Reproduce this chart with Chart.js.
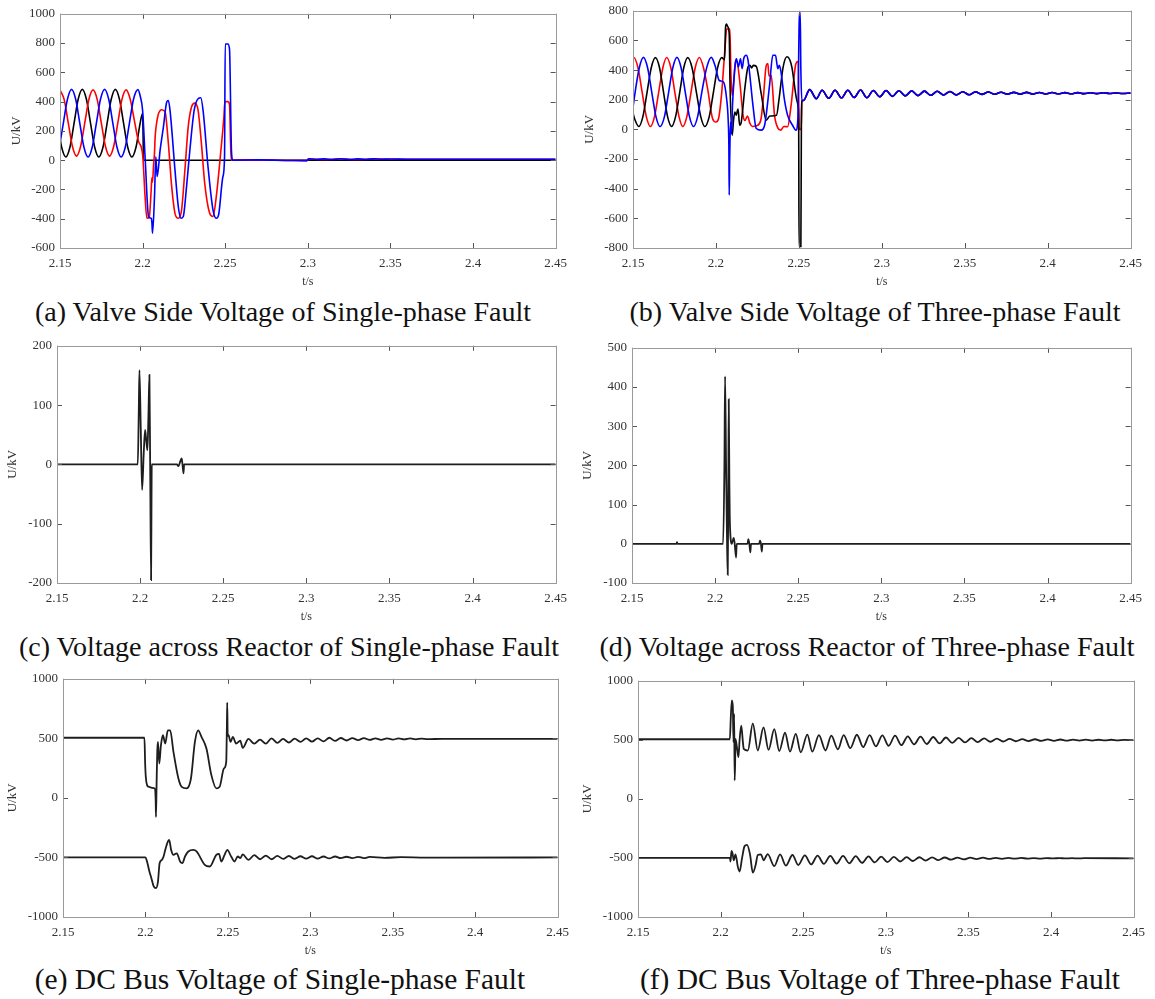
<!DOCTYPE html>
<html>
<head>
<meta charset="utf-8">
<script src="https://cdn.jsdelivr.net/npm/chart.js@4.4.1/dist/chart.umd.min.js"></script>
<style>
  body { margin: 0; background: #fff; width: 1155px; height: 999px; position: relative; overflow: hidden; font-family: 'Liberation Serif', 'Times New Roman', serif; }
  canvas.panel { position: absolute; }
  .cap { position: absolute; font-size: 28px; color: #111; white-space: nowrap; transform: translate(-50%, -50%); line-height: 1; }
  .cap.big { font-size: 29.5px; }
</style>
</head>
<body>
<div class="cap" style="left:283px;top:312px">(a) Valve Side Voltage of Single-phase Fault</div>
<div class="cap" style="left:875px;top:312px">(b) Valve Side Voltage of Three-phase Fault</div>
<div class="cap" style="left:289px;top:647px">(c) Voltage across Reactor of Single-phase Fault</div>
<div class="cap" style="left:867px;top:647px">(d) Voltage across Reactor of Three-phase Fault</div>
<div class="cap big" style="left:280px;top:980px">(e) DC Bus Voltage of Single-phase Fault</div>
<div class="cap big" style="left:880px;top:980px">(f) DC Bus Voltage of Three-phase Fault</div>
<script>
// tick labels
const xTicks = [2.15, 2.2, 2.25, 2.3, 2.35, 2.4, 2.45];
const aTicksY = [-600, -400, -200, 0, 200, 400, 600, 800, 1000];
const bTicksY = [-800, -600, -400, -200, 0, 200, 400, 600, 800];
const cTicksY = [-200, -100, 0, 100, 200];
const dTicksY = [-100, 0, 100, 200, 300, 400, 500];
const efTicksY = [-1000, -500, 0, 500, 1000];

// (a) valve side voltage, single-phase fault  [t (s), U (kV)]
const aRed = [[2.150,480],[2.1525,415],[2.155,255],[2.1575,95],[2.160,28],[2.1625,95],[2.165,255],[2.1675,415],[2.170,480],[2.1725,415],
  [2.175,255],[2.1775,95],[2.180,28],[2.1825,95],[2.185,255],[2.1875,415],[2.190,480],[2.1925,416],[2.195,272],[2.1975,130],
  [2.200,40],[2.2015,-250],[2.2026,-397],[2.204,-390],[2.2052,-204],[2.2056,-120],[2.206,-150],[2.2066,-40],[2.2072,50],[2.2076,160],
  [2.2082,230],[2.2096,317],[2.2116,345],[2.2136,330],[2.2156,113],[2.2176,-181],[2.2196,-363],[2.2216,-397],[2.2236,-340],[2.2256,-68],
  [2.2276,227],[2.2296,363],[2.2316,390],[2.2336,340],[2.2356,113],[2.2376,-159],[2.2406,-363],[2.2426,-385],[2.2446,-249],[2.2472,45],
  [2.2492,295],[2.2498,400],[2.2516,400],[2.2526,380],[2.2536,0],[2.26,2],[2.29,-2],[2.2995,-3],[2.3005,8],[2.31,5],
  [2.32,8],[2.33,5],[2.34,8],[2.35,6],[2.40,6],[2.45,6]];
const aBlue = [[2.150,116],[2.152,252],[2.1545,416],[2.157,484],[2.1595,416],[2.162,252],[2.1645,88],[2.167,22],[2.1695,88],[2.172,252],
  [2.1745,416],[2.177,484],[2.1795,416],[2.182,252],[2.1845,88],[2.187,22],[2.1895,88],[2.192,252],[2.1945,416],[2.1972,482],
  [2.1985,440],[2.200,340],[2.2016,0],[2.2036,-385],[2.2052,-397],[2.2056,-420],[2.206,-499],[2.2072,-249],[2.208,23],[2.2088,-113],
  [2.2106,68],[2.2126,227],[2.2146,397],[2.2156,408],[2.2166,340],[2.2196,-68],[2.2216,-317],[2.2232,-397],[2.2246,-385],[2.2266,-181],
  [2.2286,68],[2.2312,340],[2.2336,420],[2.2352,426],[2.2366,340],[2.2396,-45],[2.2426,-340],[2.2446,-397],[2.246,-374],[2.2486,-113],
  [2.2496,23],[2.2500,794],[2.2516,794],[2.2526,760],[2.2538,60],[2.2546,0],[2.27,2],[2.29,-2],[2.2995,-3],[2.3005,10],
  [2.305,5],[2.31,9],[2.315,4],[2.32,10],[2.325,4],[2.33,9],[2.335,5],[2.34,9],[2.345,6],[2.35,8],[2.36,6],[2.40,6],[2.45,6]];
const aBlack = [[2.150,150],[2.151,88],[2.1535,22],[2.156,88],[2.1585,252],[2.161,416],[2.1635,484],[2.166,416],[2.1685,252],[2.171,88],
  [2.1735,22],[2.176,88],[2.1785,252],[2.181,416],[2.1835,484],[2.186,416],[2.1885,252],[2.191,88],[2.1935,22],[2.196,88],
  [2.1985,252],[2.2,320],[2.2006,0],[2.45,0]];

// (b) valve side voltage, three-phase fault
const bRed = [[2.150,483],[2.1505,485],[2.153,416],[2.1555,252],[2.158,88],[2.1605,20],[2.163,88],[2.1655,252],[2.168,416],[2.1703,485],
  [2.1728,416],[2.1752,252],[2.1777,88],[2.180,20],[2.1825,88],[2.185,252],[2.1875,416],[2.190,485],[2.1925,416],[2.195,273],
  [2.198,72],[2.200,50],[2.2015,70],[2.2035,250],[2.2044,386],[2.2058,600],[2.2064,677],[2.2084,677],[2.209,386],[2.2098,230],
  [2.2118,455],[2.2126,460],[2.2143,330],[2.2163,100],[2.2175,60],[2.219,90],[2.2205,40],[2.222,20],[2.2245,25],[2.227,60],
  [2.2285,200],[2.2303,430],[2.2313,445],[2.232,360],[2.2333,365],[2.2353,96],[2.2373,10],[2.239,-5],[2.241,20],[2.2432,18],
  [2.2452,152],[2.2482,443],[2.2496,460],[2.2502,0],[2.2514,0],[2.2518,195]];
const bBlue = [[2.150,150],[2.1513,252],[2.1538,416],[2.1563,486],[2.1588,416],[2.1613,252],[2.1638,88],[2.1663,20],[2.169,88],[2.1715,252],
  [2.174,416],[2.1765,486],[2.179,416],[2.1815,252],[2.184,88],[2.1865,20],[2.189,88],[2.1915,252],[2.1945,420],[2.1972,486],
  [2.1995,430],[2.202,330],[2.2045,320],[2.2065,200],[2.2074,60],[2.2078,-120],[2.208,-443],[2.2083,-200],[2.2088,49],[2.2094,-28],
  [2.21,164],[2.2118,455],[2.2124,477],[2.2135,421],[2.2148,477],[2.2158,410],[2.2168,480],[2.2183,500],[2.2193,470],[2.2223,164],
  [2.2243,6],[2.2273,-5],[2.2293,26],[2.2323,295],[2.2343,500],[2.2359,500],[2.2373,410],[2.2382,433],[2.2392,390],[2.2412,208],
  [2.2432,96],[2.2462,28],[2.2482,-5],[2.2494,72],[2.2500,600],[2.2503,790],[2.2508,790],[2.2512,400],[2.2518,195]];
const bBlack = [[2.150,110],[2.151,70],[2.1535,20],[2.156,88],[2.1585,252],[2.161,416],[2.1635,484],[2.166,416],[2.1684,252],[2.1708,88],
  [2.1733,20],[2.1757,88],[2.1782,252],[2.1806,416],[2.183,484],[2.1856,416],[2.1882,252],[2.1908,88],[2.1933,20],[2.196,88],
  [2.1985,252],[2.201,416],[2.2035,484],[2.2052,470],[2.2058,690],[2.2064,710],[2.207,695],[2.208,645],[2.2085,300],[2.2098,-40],
  [2.2106,60],[2.2114,117],[2.2122,96],[2.2133,137],[2.2143,29],[2.2153,51],[2.2163,152],[2.2173,264],[2.2193,420],[2.2205,432],
  [2.2215,415],[2.2225,432],[2.2243,425],[2.2273,241],[2.2303,62],[2.2325,90],[2.2365,95],[2.238,200],[2.2405,420],[2.2428,490],
  [2.2445,470],[2.2458,419],[2.2488,195],[2.2496,150],[2.2499,0],[2.2501,-790],[2.2512,-790],[2.2515,0],[2.2518,195]];
// after 2.25 the three phases lie on top of each other
const bTail = [[2.2528,195],[2.2565,268],[2.2605,207],[2.2640,264],[2.2680,210],[2.2718,264],[2.2757,213],[2.2795,264],[2.2833,215],[2.2872,266],
  [2.2910,213],[2.2949,262],[2.2987,220],[2.3026,262],[2.3064,223],[2.3103,261],[2.3141,226],[2.3180,260],[2.3218,228],[2.3257,258],
  [2.3295,230],[2.3334,257],[2.3372,232],[2.3411,256],[2.3449,233],[2.3488,254],[2.3526,234],[2.3565,253],[2.3603,236],[2.3642,252],
  [2.3680,237],[2.3719,251],[2.3757,238],[2.3796,250],[2.3834,238],[2.3873,250],[2.3911,239],[2.3950,249],[2.3988,239],[2.4027,249],
  [2.4065,240],[2.4104,248],[2.4142,240],[2.4181,248],[2.4219,241],[2.4258,247],[2.4296,241],[2.4335,247],[2.4373,242],[2.4412,246],
  [2.4450,242],[2.45,245]];

// (c) reactor voltage, single-phase fault
const cLine = [[2.15,0],[2.1986,0],[2.1992,90],[2.1996,159],[2.2004,60],[2.2012,-43],[2.2022,20],[2.203,58],[2.2037,40],[2.2044,24],
  [2.2050,80],[2.2056,151],[2.2061,-20],[2.2066,-195],[2.2069,-40],[2.207,0],[2.2222,0],[2.223,-3],[2.225,10],[2.2255,0],
  [2.2261,-15],[2.2265,0],[2.45,0]];

// (d) reactor voltage, three-phase fault
const dLine = [[2.15,0],[2.1768,0],[2.177,4],[2.1775,0],[2.2048,0],[2.2056,200],[2.206,427],[2.2066,200],[2.2072,0],[2.2076,-79],
  [2.2079,100],[2.2082,369],[2.2086,150],[2.2088,75],[2.209,40],[2.2094,10],[2.21,0],[2.2112,15],[2.2118,0],[2.2126,-35],
  [2.213,0],[2.2195,0],[2.22,12],[2.2206,0],[2.2212,-22],[2.2216,0],[2.2265,0],[2.227,8],[2.2276,0],[2.2281,-20],[2.2285,0],[2.45,0]];

// (e) DC bus voltage, single-phase fault
const eUpper = [[2.15,505],[2.1994,505],[2.1998,300],[2.2002,180],[2.201,107],[2.202,93],[2.204,85],[2.2056,80],[2.2062,-20],[2.2064,-160],
  [2.2068,150],[2.2072,400],[2.2076,470],[2.2084,289],[2.2094,442],[2.2106,526],[2.212,456],[2.2136,567],[2.215,567],[2.217,386],
  [2.22,163],[2.222,93],[2.225,80],[2.2276,163],[2.23,470],[2.232,567],[2.234,512],[2.237,414],[2.24,191],[2.243,80],
  [2.245,93],[2.2476,247],[2.249,303],[2.2494,600],[2.2496,800],[2.2499,520],[2.2504,526],[2.2516,470],[2.253,512],[2.255,456],
  [2.2575,480],[2.259,420],[2.2625,495],[2.266,455],[2.2695,490],[2.273,455],[2.2765,500],[2.28,462],[2.2835,495],[2.287,465],
  [2.2905,497],[2.294,470],[2.2975,500],[2.301,472],[2.3045,500],[2.308,475],[2.3115,505],[2.315,478],[2.3185,503],[2.322,482],
  [2.3255,502],[2.329,485],[2.3325,502],[2.336,487],[2.3395,500],[2.343,488],[2.3465,500],[2.35,490],[2.3535,499],[2.357,491],
  [2.3605,499],[2.364,492],[2.3675,498],[2.371,493],[2.38,496],[2.45,495]];
const eLower = [[2.15,-500],[2.2,-500],[2.201,-536],[2.2024,-618],[2.2036,-674],[2.205,-743],[2.2064,-757],[2.2076,-702],[2.2086,-548],[2.21,-520],
  [2.211,-492],[2.212,-437],[2.2136,-367],[2.2144,-353],[2.2156,-437],[2.217,-478],[2.219,-465],[2.221,-534],[2.2224,-548],[2.224,-492],
  [2.226,-450],[2.229,-437],[2.231,-450],[2.236,-562],[2.239,-576],[2.243,-478],[2.2446,-470],[2.246,-534],[2.248,-478],[2.2496,-437],
  [2.252,-492],[2.254,-534],[2.256,-492],[2.2575,-505],[2.259,-475],[2.2625,-520],[2.266,-480],[2.2695,-515],[2.273,-485],[2.2765,-515],
  [2.28,-487],[2.2835,-512],[2.287,-488],[2.2905,-512],[2.294,-490],[2.2975,-510],[2.301,-490],[2.3045,-510],[2.308,-492],[2.3115,-508],
  [2.315,-492],[2.3185,-506],[2.322,-494],[2.3255,-506],[2.329,-495],[2.3325,-505],[2.336,-496],[2.345,-503],[2.355,-498],[2.37,-501],[2.45,-500]];

// (f) DC bus voltage, three-phase fault
const fUpper = [[2.15,505],[2.2056,505],[2.2062,700],[2.2068,835],[2.2074,780],[2.2078,480],[2.2082,719],[2.2085,157],[2.2088,300],[2.209,508],
  [2.21,424],[2.2108,354],[2.2115,500],[2.2125,621],[2.2135,480],[2.214,424],[2.2165,410],[2.2195,640],[2.2225,410],[2.226,605],
  [2.229,415],[2.2325,590],[2.2355,405],[2.239,560],[2.242,400],[2.2455,550],[2.2485,395],[2.2525,545],[2.2555,400],[2.2595,540],
  [2.2635,410],[2.267,535],[2.271,420],[2.2745,540],[2.2785,430],[2.2825,543],[2.2863,439],[2.2902,540],[2.294,445],[2.2979,538],
  [2.3017,450],[2.3056,535],[2.3094,455],[2.3133,530],[2.3171,462],[2.321,527],[2.3248,465],[2.3287,524],[2.3325,470],[2.3364,520],
  [2.3402,474],[2.3441,517],[2.3479,478],[2.3518,514],[2.3556,481],[2.3595,512],[2.3633,484],[2.3672,510],[2.371,486],[2.3749,508],
  [2.3787,488],[2.3826,506],[2.3864,490],[2.3903,505],[2.3941,491],[2.398,504],[2.4018,492],[2.4057,503],[2.4095,493],[2.4134,502],
  [2.4172,494],[2.4211,502],[2.4249,494],[2.4288,501],[2.4326,495],[2.4365,501],[2.4403,495],[2.4442,500],[2.45,497]];
const fLower = [[2.15,-500],[2.2056,-500],[2.206,-530],[2.2066,-440],[2.2072,-460],[2.208,-520],[2.209,-470],[2.2105,-580],[2.2115,-615],[2.213,-500],
  [2.2145,-400],[2.216,-390],[2.2178,-470],[2.2195,-625],[2.2212,-560],[2.2225,-475],[2.2245,-470],[2.226,-520],[2.2285,-468],[2.2325,-570],
  [2.236,-470],[2.2395,-565],[2.2435,-475],[2.247,-560],[2.251,-478],[2.2548,-555],[2.2587,-480],[2.2625,-550],[2.2664,-482],[2.2702,-548],
  [2.2741,-483],[2.2779,-545],[2.2818,-485],[2.2856,-542],[2.2895,-487],[2.2933,-538],[2.2972,-489],[2.301,-535],[2.3049,-491],[2.3087,-530],
  [2.3126,-493],[2.3164,-526],[2.3203,-494],[2.3241,-522],[2.328,-495],[2.3318,-518],[2.3357,-496],[2.3395,-515],[2.3434,-497],[2.3472,-512],
  [2.3511,-498],[2.3549,-510],[2.3588,-498],[2.3626,-508],[2.3665,-499],[2.3703,-507],[2.3742,-500],[2.378,-506],[2.3819,-500],[2.3857,-505],
  [2.3896,-501],[2.3934,-505],[2.3973,-501],[2.4011,-504],[2.405,-501],[2.4088,-504],[2.4127,-502],[2.4165,-504],[2.42,-502],[2.45,-503]];

const FONT = "'Liberation Serif', 'Times New Roman', serif";

// box round the plot with MATLAB style inward ticks on all four sides
const boxTicks = {
  id: 'boxTicks',
  afterDraw(chart) {
    const { ctx, chartArea: a, scales: { x, y } } = chart;
    ctx.save();
    ctx.lineWidth = 1;
    ctx.strokeStyle = '#555';
    ctx.beginPath();
    x.ticks.forEach(t => {
      const px = Math.round(x.getPixelForValue(t.value)) + 0.5;
      ctx.moveTo(px, a.bottom); ctx.lineTo(px, a.bottom - 5);
      ctx.moveTo(px, a.top); ctx.lineTo(px, a.top + 5);
    });
    y.ticks.forEach(t => {
      const py = Math.round(y.getPixelForValue(t.value)) + 0.5;
      ctx.moveTo(a.left, py); ctx.lineTo(a.left + 5, py);
      ctx.moveTo(a.right, py); ctx.lineTo(a.right - 5, py);
    });
    ctx.stroke();
    ctx.strokeStyle = '#9a9a9a';
    ctx.strokeRect(Math.round(a.left) + 0.5, Math.round(a.top) + 0.5, Math.round(a.right - a.left), Math.round(a.bottom - a.top));
    ctx.restore();
  }
};

const toXY = pairs => pairs.map(([x, y]) => ({ x, y }));

function makePanel(box, yTicks, yPad, series) {
  const cv = document.createElement('canvas');
  cv.className = 'panel';
  const w = box.r - box.l + 75, h = box.b - box.t + 62;
  cv.width = w; cv.height = h;
  cv.style.left = (box.l - 60) + 'px';
  cv.style.top = (box.t - 12) + 'px';
  cv.style.width = w + 'px'; cv.style.height = h + 'px';
  document.body.appendChild(cv);

  new Chart(cv, {
    type: 'line',
    data: {
      datasets: series.map(s => ({
        data: toXY(s.data),
        borderColor: s.color,
        borderWidth: s.width,
        pointRadius: 0,
        cubicInterpolationMode: 'monotone',
        fill: false
      }))
    },
    options: {
      responsive: false,
      animation: false,
      events: [],
      layout: { padding: { left: 0, top: 12, right: 15, bottom: 0 } },
      plugins: { legend: { display: false }, tooltip: { enabled: false } },
      scales: {
        x: {
          type: 'linear',
          min: xTicks[0], max: xTicks[xTicks.length - 1],
          afterBuildTicks: sc => { sc.ticks = xTicks.map(v => ({ value: v })); },
          afterFit: sc => { sc.height = 50; },
          grid: { display: false, drawTicks: false },
          border: { display: false },
          ticks: { padding: 8, maxRotation: 0, autoSkip: false, color: '#333', font: { family: FONT, size: 13 }, callback: v => String(v) },
          title: { display: true, text: 't/s', color: '#333', font: { family: FONT, size: 12 }, padding: { top: 0, bottom: 9 } }
        },
        y: {
          type: 'linear',
          min: yTicks[0], max: yTicks[yTicks.length - 1],
          afterBuildTicks: sc => { sc.ticks = yTicks.map(v => ({ value: v })); },
          afterFit: sc => { sc.width = 60; },
          grid: { display: false, drawTicks: false },
          border: { display: false },
          ticks: { padding: 5, autoSkip: false, color: '#333', font: { family: FONT, size: 13 }, callback: v => String(v) },
          title: { display: true, text: 'U/kV', color: '#333', font: { family: FONT, size: 13 }, padding: { top: yPad, bottom: 0 } }
        }
      }
    },
    plugins: [boxTicks]
  });
}

const RED = '#ff0000', BLUE = '#0000ff', BLACK = '#000000', DARK = '#1e1e1e';

// first dataset is drawn on top
makePanel({ l: 60, r: 560, t: 13, b: 248 }, aTicksY, 9, [
  { data: aBlue, color: BLUE, width: 1.6 },
  { data: aRed, color: RED, width: 1.6 },
  { data: aBlack, color: BLACK, width: 1.6 }
]);
makePanel({ l: 633, r: 1135, t: 10, b: 248 }, bTicksY, 9, [
  { data: bBlue.concat(bTail), color: BLUE, width: 1.6 },
  { data: bBlack.concat(bTail), color: BLACK, width: 1.6 },
  { data: bRed.concat(bTail), color: RED, width: 1.6 }
]);
makePanel({ l: 57, r: 560, t: 345, b: 583 }, cTicksY, 8, [
  { data: cLine, color: DARK, width: 1.8 }
]);
makePanel({ l: 632, r: 1135, t: 347, b: 583 }, dTicksY, 8, [
  { data: dLine, color: DARK, width: 1.8 }
]);
makePanel({ l: 63, r: 562, t: 678, b: 917 }, efTicksY, 2, [
  { data: eUpper, color: DARK, width: 1.8 },
  { data: eLower, color: DARK, width: 1.8 }
]);
makePanel({ l: 638, r: 1138, t: 680, b: 917 }, efTicksY, 2, [
  { data: fUpper, color: DARK, width: 1.8 },
  { data: fLower, color: DARK, width: 1.8 }
]);
</script>
</body>
</html>
